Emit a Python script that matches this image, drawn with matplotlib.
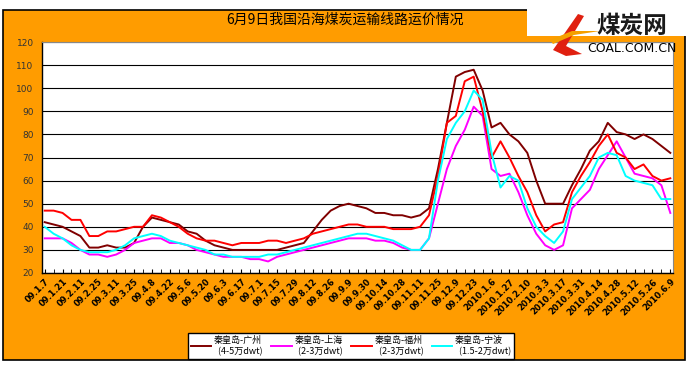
import matplotlib
matplotlib.use('Agg')
import matplotlib.pyplot as plt
from matplotlib.patches import Rectangle, Polygon

plt.rcParams['font.family'] = ['Noto Sans CJK SC', 'DejaVu Sans']

# 日期标签（每两个数据点一个）
date_labels = ['09.1.7', '09.1.21', '09.2.11', '09.2.25', '09.3.11', '09.3.25',
               '09.4.8', '09.4.22', '09.5.6', '09.5.20', '09.6.3', '09.6.17',
               '09.7.1', '09.7.15', '09.7.29', '09.8.12', '09.8.26', '09.9.9',
               '09.9.30', '09.10.14', '09.10.28', '09.11.11', '09.11.25', '09.12.9',
               '09.12.23', '2010.1.6', '2010.1.27', '2010.2.10', '2010.3.3', '2010.3.17',
               '2010.3.31', '2010.4.14', '2010.4.28', '2010.5.12', '2010.5.26', '2010.6.9']

names = ['秦皇岛-广州\n  (4-5万dwt)', '秦皇岛-上海\n  (2-3万dwt)',
         '秦皇岛-福州\n  (2-3万dwt)', '秦皇岛-宁波\n  (1.5-2万dwt)']

guangzhou = [42, 41, 40, 38, 36, 31, 31, 32, 31, 31, 33, 40, 44, 43, 42, 41, 38, 37, 34, 32,
             31, 30, 30, 30, 30, 30, 30, 31, 32, 33, 38, 43, 47, 49, 50, 49, 48, 46, 46, 45,
             45, 44, 45, 48, 65, 85, 105, 107, 108, 99, 83, 85, 80, 77, 72, 60, 50, 50, 50, 58,
             65, 73, 77, 85, 81, 80, 78, 80, 78, 75, 72]
shanghai = [35, 35, 35, 33, 30, 28, 28, 27, 28, 30, 33, 34, 35, 35, 33, 33, 32, 30, 29, 28,
            27, 27, 27, 26, 26, 25, 27, 28, 29, 30, 31, 32, 33, 34, 35, 35, 35, 34, 34, 33,
            31, 30, 30, 35, 50, 65, 75, 82, 92, 88, 65, 62, 63, 55, 45, 37, 32, 30, 32, 48,
            52, 56, 65, 71, 77, 70, 63, 62, 61, 58, 46]
fuzhou = [47, 47, 46, 43, 43, 36, 36, 38, 38, 39, 40, 40, 45, 44, 42, 40, 37, 35, 34, 34,
          33, 32, 33, 33, 33, 34, 34, 33, 34, 35, 37, 38, 39, 40, 41, 41, 40, 40, 40, 39,
          39, 39, 40, 45, 62, 85, 88, 103, 105, 90, 70, 77, 70, 62, 55, 45, 38, 41, 42, 55,
          62, 68, 75, 80, 72, 70, 65, 67, 62, 60, 61]
ningbo = [40, 37, 35, 32, 30, 29, 29, 29, 30, 32, 35, 36, 37, 36, 34, 33, 32, 31, 30, 28,
          28, 27, 27, 27, 27, 28, 28, 29, 30, 31, 32, 33, 34, 35, 36, 37, 37, 36, 35, 34,
          32, 30, 30, 35, 60, 78, 85, 90, 99, 95, 72, 57, 62, 60, 48, 40, 36, 33, 38, 52,
          57, 62, 70, 72, 71, 62, 60, 59, 58, 52, 52]

series = [guangzhou, shanghai, fuzhou, ningbo]
colors = ['#800000', '#FF00FF', '#FF0000', '#00FFFF']

W, H = 691, 365
fig = plt.figure(figsize=(W / 100, H / 100), dpi=100, facecolor='white')

def fx(px):
    return px / W

def fy(py):
    return 1 - py / H

# 橙色底框
fig.patches.append(Rectangle((fx(3), fy(360)), fx(682), 350 / H, transform=fig.transFigure,
                             facecolor='#FF9C00', edgecolor='black', linewidth=1.2, zorder=-5))

ax = fig.add_axes([fx(42), fy(273), fx(631), (273 - 42) / H])
ax.set_facecolor('white')
x = list(range(len(guangzhou)))
for s, c, n in zip(series, colors, names):
    ax.plot(x, s, color=c, linewidth=1.4, label=n, zorder=3)

ax.set_ylim(20, 120)
ax.set_yticks(range(20, 121, 10))
ax.set_xlim(-0.3, len(x) - 0.7)
ax.set_xticks(x, minor=True)
ax.set_xticks(x[::2])
ax.set_xticklabels(date_labels, rotation=45, ha='right', va='top', fontsize=6,
                   fontweight='bold', family='DejaVu Sans', rotation_mode='anchor')
ax.tick_params(axis='x', which='both', direction='in', length=3, color='black', pad=3)
ax.tick_params(axis='y', length=0, labelsize=6.5, labelcolor='#333333', pad=6)
for lbl in ax.get_yticklabels():
    lbl.set_family('DejaVu Sans')
ax.grid(axis='y', color='black', linewidth=0.8)
ax.set_axisbelow(True)
for side in ['left', 'bottom']:
    ax.spines[side].set_color('black')
    ax.spines[side].set_linewidth(1)
ax.spines['top'].set_color('#888888')
ax.spines['right'].set_color('#888888')

fig.text(fx(345), fy(20), '6月9日我国沿海煤炭运输线路运价情况', ha='center', va='center',
         fontsize=10, color='black')

# 图例
leg = fig.legend(loc='center', bbox_to_anchor=(fx(351), fy(346)), ncol=4, fontsize=6.5,
                 frameon=True, fancybox=False, edgecolor='black', facecolor='white',
                 framealpha=1, handlelength=2.3, columnspacing=0.9, handletextpad=0.3,
                 borderpad=0.3, labelspacing=0.2)
leg.get_frame().set_linewidth(1)

# 右上角标志
fig.patches.append(Rectangle((fx(527), fy(36)), fx(164), 36 / H, transform=fig.transFigure,
                             facecolor='white', edgecolor='none', zorder=5))
fig.patches.append(Polygon([[fx(553), fy(50)], [fx(578), fy(14)], [fx(584), fy(16)],
                            [fx(566), fy(46)], [fx(582), fy(54)], [fx(566), fy(56)]],
                           closed=True, transform=fig.transFigure, facecolor='#E02010',
                           edgecolor='none', zorder=6))
fig.patches.append(Polygon([[fx(550), fy(40)], [fx(572), fy(31)], [fx(600), fy(31)],
                            [fx(574), fy(35)], [fx(553), fy(44)]],
                           closed=True, transform=fig.transFigure, facecolor='#F5A000',
                           edgecolor='none', zorder=7))
fig.text(fx(632), fy(26), '煤炭网', ha='center', va='center', fontsize=17,
         fontweight='bold', color='#1a1a1a', zorder=8)
fig.text(fx(632), fy(48), 'COAL.COM.CN', ha='center', va='center', fontsize=9,
         color='black', family='DejaVu Sans', zorder=8)

fig.savefig('out.png', dpi=100, facecolor='white')
